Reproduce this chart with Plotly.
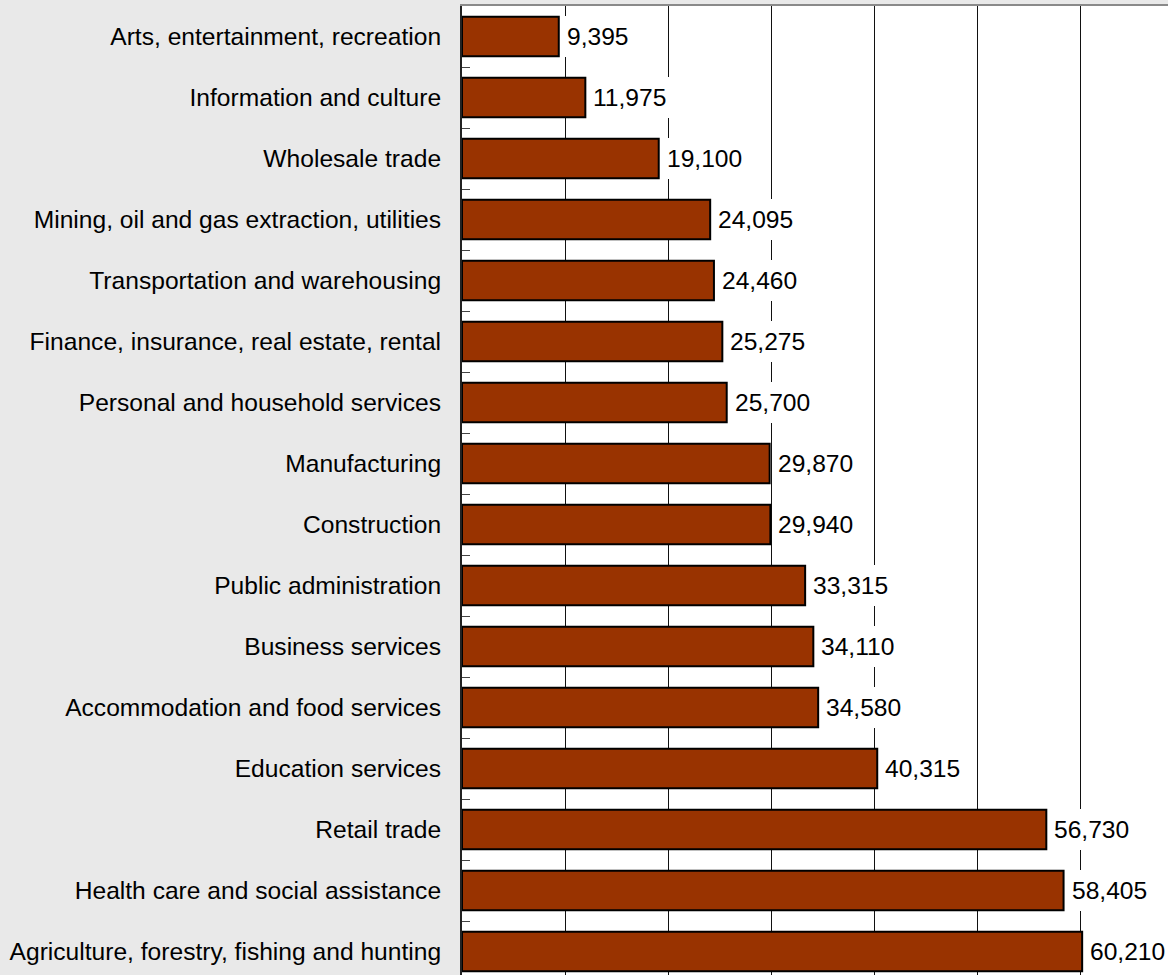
import plotly.graph_objects as go

# Industries, listed top to bottom, and their counts
industries = [
    "Arts, entertainment, recreation",
    "Information and culture",
    "Wholesale trade",
    "Mining, oil and gas extraction, utilities",
    "Transportation and warehousing",
    "Finance, insurance, real estate, rental",
    "Personal and household services",
    "Manufacturing",
    "Construction",
    "Public administration",
    "Business services",
    "Accommodation and food services",
    "Education services",
    "Retail trade",
    "Health care and social assistance",
    "Agriculture, forestry, fishing and hunting",
]
counts = [9395, 11975, 19100, 24095, 24460, 25275, 25700, 29870,
          29940, 33315, 34110, 34580, 40315, 56730, 58405, 60210]

FONT = "Arial, Liberation Sans, sans-serif"
FSIZE = 24.6

fig = go.Figure(
    go.Bar(
        x=counts,
        y=industries,
        orientation="h",
        marker=dict(color="#993300", line=dict(color="#000000", width=2)),
        hoverinfo="x+y",
    )
)

# Value labels on white boxes just past each bar end
for name, v in zip(industries, counts):
    fig.add_annotation(
        x=v, y=name, xref="x", yref="y",
        text=f"{v:,}",
        showarrow=False,
        xanchor="left", yanchor="middle",
        xshift=4,
        bgcolor="#ffffff",
        borderwidth=0,
        borderpad=4,
        height=33,
        font=dict(family=FONT, size=FSIZE, color="#000000"),
    )

fig.update_layout(
    width=1168,
    height=975,
    margin=dict(l=462, r=0, t=6, b=0, pad=0),
    paper_bgcolor="#e9e9e9",
    plot_bgcolor="#ffffff",
    bargap=0.35,
    showlegend=False,
    font=dict(family=FONT, size=FSIZE, color="#000000"),
    xaxis=dict(
        range=[0, 68544],
        side="top",
        dtick=10000,
        showgrid=True,
        gridcolor="#111111",
        gridwidth=1,
        zeroline=False,
        showticklabels=False,
        ticks="",
        showline=True,
        linecolor="#8a8a8a",
        linewidth=2,
        fixedrange=True,
    ),
    yaxis=dict(
        categoryorder="array",
        categoryarray=industries,
        range=[15.385, -0.5],
        tickson="boundaries",
        ticks="inside",
        ticklen=8,
        tickwidth=1,
        tickcolor="#444444",
        showline=True,
        linecolor="#222222",
        linewidth=2,
        showgrid=False,
        zeroline=False,
        automargin=False,
        ticklabelstandoff=14,
        tickfont=dict(family=FONT, size=FSIZE, color="#000000"),
        fixedrange=True,
    ),
)

fig.write_html("out.html")
